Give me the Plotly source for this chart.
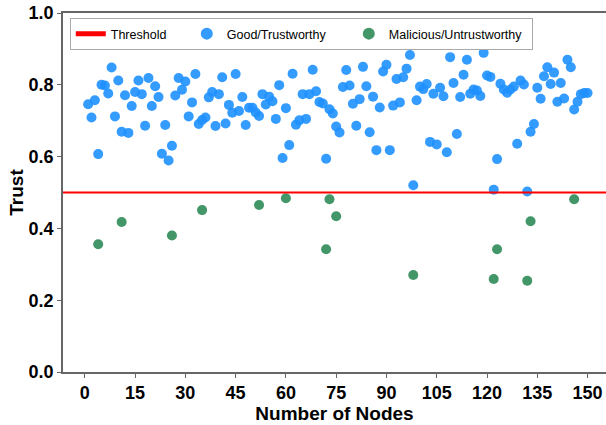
import plotly.graph_objects as go

# ---- data ----
good_nodes = list(range(1, 151))
good_trust = [
    0.746, 0.709, 0.757, 0.607, 0.800, 0.798, 0.776, 0.848, 0.712, 0.812,
    0.669, 0.771, 0.666, 0.741, 0.780, 0.812, 0.774, 0.686, 0.819, 0.741,
    0.796, 0.766, 0.608, 0.688, 0.589, 0.630, 0.770, 0.819, 0.786, 0.809,
    0.712, 0.751, 0.830, 0.691, 0.702, 0.709, 0.765, 0.780, 0.685, 0.774,
    0.821, 0.692, 0.744, 0.722, 0.830, 0.727, 0.766, 0.688, 0.736, 0.736,
    0.723, 0.713, 0.774, 0.745, 0.767, 0.754, 0.705, 0.799, 0.596, 0.735,
    0.632, 0.831, 0.689, 0.701, 0.774, 0.705, 0.774, 0.842, 0.782, 0.752,
    0.748, 0.594, 0.732, 0.720, 0.684, 0.667, 0.794, 0.841, 0.798, 0.747,
    0.686, 0.760, 0.850, 0.796, 0.668, 0.767, 0.618, 0.737, 0.837, 0.856,
    0.618, 0.742, 0.816, 0.751, 0.821, 0.845, 0.883, 0.520, 0.757, 0.795,
    0.788, 0.802, 0.641, 0.775, 0.634, 0.792, 0.768, 0.612, 0.877, 0.805,
    0.663, 0.766, 0.828, 0.870, 0.775, 0.787, 0.784, 0.769, 0.889, 0.826,
    0.822, 0.508, 0.593, 0.803, 0.787, 0.778, 0.787, 0.795, 0.636, 0.812,
    0.801, 0.503, 0.669, 0.691, 0.792, 0.761, 0.824, 0.849, 0.802, 0.834,
    0.753, 0.805, 0.762, 0.870, 0.849, 0.731, 0.753, 0.774, 0.777, 0.777,
]

mal_nodes = [4, 11, 26, 35, 52, 60, 72, 73, 75, 98, 122, 123, 132, 133, 146]
mal_trust = [0.356, 0.418, 0.380, 0.451, 0.465, 0.484, 0.342, 0.481, 0.434,
             0.270, 0.259, 0.342, 0.254, 0.420, 0.481]

threshold = 0.5
x_ticks = [0, 15, 30, 45, 60, 75, 90, 105, 120, 135, 150]
y_ticks = [0.0, 0.2, 0.4, 0.6, 0.8, 1.0]
y_tick_text = ["0.0", "0.2", "0.4", "0.6", "0.8", "1.0"]

FONT = "Liberation Sans, Arial, sans-serif"
AX_COLOR = "#666666"

fig = go.Figure()

# legend-only entry for the threshold line
fig.add_trace(go.Scatter(
    x=[None], y=[None], mode="lines", name="Threshold",
    line=dict(color="#ff0000", width=1.5), legendwidth=71,
))
fig.add_trace(go.Scatter(
    x=good_nodes, y=good_trust, mode="markers", name="Good/Trustworthy",
    marker=dict(size=10, color="rgba(30,144,255,0.9)", line=dict(width=0)),
    legendwidth=117,
))
fig.add_trace(go.Scatter(
    x=mal_nodes, y=mal_trust, mode="markers", name="Malicious/Untrustworthy",
    marker=dict(size=10, color="rgba(46,139,87,0.9)", line=dict(width=0)),
    legendwidth=138,
))

fig.add_shape(type="line", xref="paper", x0=0, x1=1, yref="y",
              y0=threshold, y1=threshold, layer="above",
              line=dict(color="#ff0000", width=2))

fig.update_layout(
    width=606, height=425,
    margin=dict(l=63, r=0, t=13, b=53),
    paper_bgcolor="white", plot_bgcolor="white",
    font=dict(family=FONT, color="black"),
    showlegend=True,
    legend=dict(
        orientation="h", x=0.0125, xanchor="left", y=0.9415, yanchor="middle",
        bgcolor="white", bordercolor="#aaaaaa", borderwidth=1,
        font=dict(family=FONT, size=12.5, color="black"),
        itemsizing="constant",
    ),
    xaxis=dict(
        range=[-6.5, 155.5], tickmode="array", tickvals=x_ticks,
        showgrid=False, zeroline=False,
        showline=True, linecolor=AX_COLOR, linewidth=1.5, mirror=True,
        ticks="outside", ticklen=4, tickcolor=AX_COLOR, tickwidth=1.2,
        tickfont=dict(family=FONT, size=18, color="black", weight="bold"),
        title=dict(text="Number of Nodes", standoff=0,
                   font=dict(family=FONT, size=19, color="black", weight="bold")),
        automargin=False,
    ),
    yaxis=dict(
        range=[0, 1], tickmode="array", tickvals=y_ticks, ticktext=y_tick_text,
        showgrid=False, zeroline=False,
        showline=True, linecolor=AX_COLOR, linewidth=1.5, mirror=False,
        ticks="outside", ticklen=4, tickcolor=AX_COLOR, tickwidth=1.2,
        tickfont=dict(family=FONT, size=18, color="black", weight="bold"),
        title=dict(text="Trust", standoff=0,
                   font=dict(family=FONT, size=19, color="black", weight="bold")),
        automargin=False,
    ),
)

fig.write_html("out.html")
